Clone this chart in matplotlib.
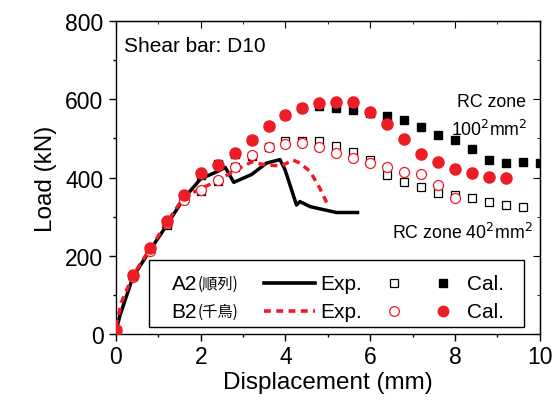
import matplotlib
matplotlib.use("Agg")
import matplotlib.pyplot as plt
from matplotlib.lines import Line2D
from matplotlib.patches import Rectangle
from matplotlib.ticker import MultipleLocator

plt.rcParams['font.family'] = ['Liberation Sans', 'Noto Sans CJK JP', 'DejaVu Sans']

RED = '#EE1C25'

# A2 experiment (solid black)
a2_exp_x = [0, 0.1, 0.4, 0.8, 1.2, 1.6, 2.0, 2.4, 2.58, 2.78, 3.2, 3.55, 3.87, 3.99, 4.26, 4.34, 4.58, 5.2, 5.7]
a2_exp_y = [8, 50, 146, 214, 279, 347, 397, 416, 426, 388, 408, 437, 446, 420, 330, 339, 326, 311, 311]

# B2 experiment (red dashed)
b2_exp_x = [0, 0.13, 0.4, 0.8, 1.2, 1.6, 2.0, 2.4, 2.8, 3.2, 3.55, 3.9, 4.18, 4.34, 4.58, 4.81, 5.0]
b2_exp_y = [20, 82, 150, 218, 285, 350, 372, 392, 418, 440, 432, 430, 445, 437, 416, 373, 330]

# Calculated series
cal_x = [0, 0.4, 0.8, 1.2, 1.6, 2.0, 2.4, 2.8, 3.2, 3.6, 4.0, 4.4, 4.8, 5.2, 5.6, 6.0, 6.4,
         6.8, 7.2, 7.6, 8.0, 8.4, 8.8, 9.2, 9.6, 10.0]
a2_cal100_y = [10, 150, 218, 285, 351, 407, 435, 460, 497, 533, 559, 577, 582, 578, 572, 566, 557,
               548, 529, 510, 495, 474, 444, 437, 440, 437]
a2_cal40_y = [10, 150, 217, 279, 347, 366, 392, 426, 454, 477, 493, 494, 493, 482, 465, 446, 408,
              388, 375, 360, 356, 349, 339, 329, 324]
b2_cal100_y = [10, 152, 220, 290, 356, 413, 433, 462, 496, 533, 559, 578, 590, 594, 594, 567, 537,
               499, 460, 441, 422, 411, 401, 398]
b2_cal40_y = [10, 146, 214, 283, 343, 369, 394, 426, 459, 478, 487, 489, 478, 463, 450, 437, 426,
              414, 409, 381, 349]

fig = plt.figure(figsize=(5.6, 4.06), dpi=100)
ax = fig.add_axes([0.207, 0.174, 0.757, 0.772])

ax.plot(a2_exp_x, a2_exp_y, color='black', lw=2.5, zorder=3)
ax.plot(b2_exp_x, b2_exp_y, color=RED, lw=2.5, ls=(0, (2.0, 1.5)), zorder=3)

ax.plot(cal_x[:len(a2_cal40_y)], a2_cal40_y, ls='none', marker='s', ms=6.2, mfc='white',
        mec='black', mew=0.9, zorder=4)
ax.plot(cal_x[:len(a2_cal100_y)], a2_cal100_y, ls='none', marker='s', ms=6.2, color='black', zorder=4)
ax.plot(cal_x[:len(b2_cal40_y)], b2_cal40_y, ls='none', marker='o', ms=7.2, mfc='white',
        mec=RED, mew=0.9, zorder=5)
ax.plot(cal_x[:len(b2_cal100_y)], b2_cal100_y, ls='none', marker='o', ms=8.0, color=RED, zorder=5)

ax.set_xlim(0, 10)
ax.set_ylim(0, 800)
ax.xaxis.set_major_locator(MultipleLocator(2))
ax.xaxis.set_minor_locator(MultipleLocator(1))
ax.yaxis.set_major_locator(MultipleLocator(200))
ax.yaxis.set_minor_locator(MultipleLocator(100))
ax.tick_params(which='both', direction='out', top=False, right=False, labelsize=16.5, width=1)
ax.tick_params(which='major', length=5)
ax.tick_params(which='minor', length=2.5)
ax.tick_params(axis='y', pad=4)
ax.tick_params(axis='x', pad=3)
axt = ax.secondary_xaxis('top')
axt.xaxis.set_major_locator(MultipleLocator(2))
axt.xaxis.set_minor_locator(MultipleLocator(1))
axt.tick_params(which='both', direction='in', labeltop=False)
axt.tick_params(which='major', length=5)
axt.tick_params(which='minor', length=2.5)
axr = ax.secondary_yaxis('right')
axr.yaxis.set_major_locator(MultipleLocator(200))
axr.yaxis.set_minor_locator(MultipleLocator(100))
axr.tick_params(which='both', direction='in', labelright=False)
axr.tick_params(which='major', length=5)
axr.tick_params(which='minor', length=2.5)
for s in ax.spines.values():
    s.set_linewidth(1.0)

ax.set_xlabel('Displacement (mm)', fontsize=17.5, labelpad=2)
ax.set_ylabel('Load (kN)', fontsize=17.5, labelpad=6)

ax.text(0.019, 0.92, 'Shear bar: D10', transform=ax.transAxes, fontsize=15, va='center', ha='left')
ax.text(0.967, 0.744, 'RC zone', transform=ax.transAxes, fontsize=12.8, ha='right', va='center')
ax.text(0.972, 0.655, r'100$^{2}$mm$^{2}$', transform=ax.transAxes, fontsize=12.8, ha='right', va='center')
ax.text(0.983, 0.326, r'RC zone 40$^{2}$mm$^{2}$', transform=ax.transAxes, fontsize=12.8, ha='right', va='center')

# Custom legend box
ax.add_patch(Rectangle((0.079, 0.022), 0.883, 0.214, transform=ax.transAxes, fill=True,
                       facecolor='white', edgecolor='black', lw=1.0, zorder=6))
rows = [(0.163, 'A2', '(順列)', dict(color='black', lw=2.6, ls='-'), 's', 'black'),
        (0.073, 'B2', '(千鳥)', dict(color=RED, lw=2.6, ls=(0, (1.9, 1.5))), 'o', RED)]
for y, name, jp, lstyle, mk, col in rows:
    ax.text(0.131, y, name, transform=ax.transAxes, fontsize=15, va='center', ha='left', zorder=7)
    ax.text(0.193, y, jp, transform=ax.transAxes, fontsize=11,
            family=['Noto Sans CJK JP'], va='center', ha='left', zorder=7)
    ax.add_line(Line2D([0.349, 0.469], [y, y], transform=ax.transAxes, zorder=7, **lstyle))
    ax.text(0.483, y, 'Exp.', transform=ax.transAxes, fontsize=15, va='center', ha='left', zorder=7)
    ax.add_line(Line2D([0.656], [y], transform=ax.transAxes, marker=mk, ms=6 if mk == 's' else 7,
                       mfc='white', mec=col, mew=0.9, ls='none', zorder=7))
    ax.add_line(Line2D([0.771], [y], transform=ax.transAxes, marker=mk, ms=6 if mk == 's' else 7.5,
                       color=col, ls='none', zorder=7))
    ax.text(0.827, y, 'Cal.', transform=ax.transAxes, fontsize=15, va='center', ha='left', zorder=7)

fig.savefig('out.png', dpi=100)
